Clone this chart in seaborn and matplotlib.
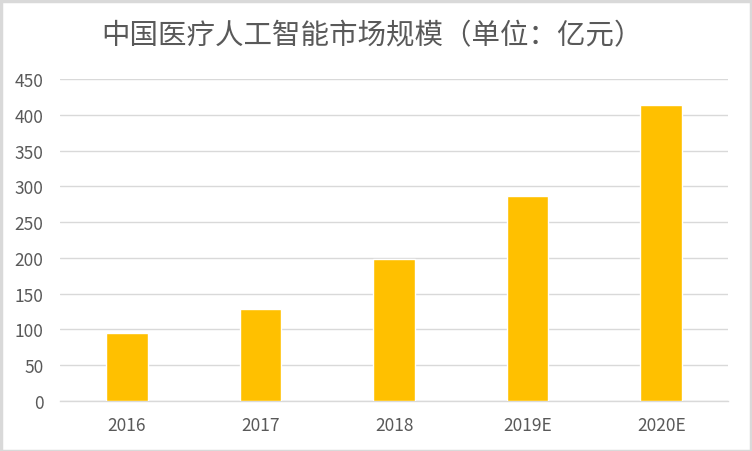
import matplotlib
matplotlib.use("Agg")
import matplotlib.pyplot as plt
from matplotlib.patches import Rectangle
import seaborn as sns
import pandas as pd

years = ["2016", "2017", "2018", "2019E", "2020E"]
market_size = [95, 128, 198, 286, 414]
y_ticks = [0, 50, 100, 150, 200, 250, 300, 350, 400, 450]
title = "中国医疗人工智能市场规模（单位：亿元）"

sns.set_theme(style="white")
plt.rcParams["font.family"] = ["Noto Sans CJK SC", "DejaVu Sans"]

df = pd.DataFrame({"year": years, "size": market_size})

fig = plt.figure(figsize=(7.52, 4.52), dpi=100)
ax = fig.add_axes([60 / 752, 50 / 452, 668 / 752, 322 / 452])

sns.barplot(data=df, x="year", y="size", color="#FFC000", width=0.31,
            saturation=1, ax=ax, zorder=3)

ax.set_ylim(0, 450)
ax.set_yticks(y_ticks)
ax.set_xlim(-0.5, len(years) - 0.5)
ax.yaxis.grid(True, color="#D9D9D9", linewidth=1.0, zorder=0)
ax.set_axisbelow(True)
for side in ["top", "right", "left"]:
    ax.spines[side].set_visible(False)
ax.spines["bottom"].set_color("#D9D9D9")
ax.spines["bottom"].set_linewidth(1.0)
ax.set_xlabel("")
ax.set_ylabel("")
ax.tick_params(axis="both", length=0, colors="#595959", labelsize=12.5)
ax.tick_params(axis="y", pad=12)
ax.tick_params(axis="x", pad=11)

fig.text(372 / 752, 1 - 36 / 452, title, ha="center", va="center",
         fontsize=20.5, color="#595959", fontweight="light")

fig.patches.append(Rectangle((0.5 / 752, 0.5 / 452), 750 / 752, 450 / 452,
                             transform=fig.transFigure, fill=False,
                             edgecolor="#D9D9D9", linewidth=2.5))

fig.savefig("out.png", dpi=100, facecolor="white")
